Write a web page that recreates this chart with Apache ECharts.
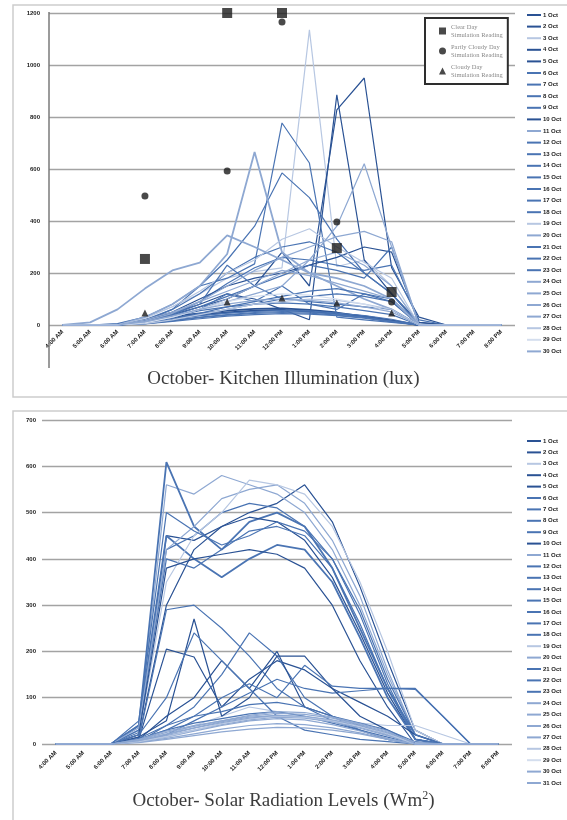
<!DOCTYPE html>
<html>
<head>
<meta charset="utf-8">
<script src="https://cdn.jsdelivr.net/npm/echarts@6/dist/echarts.min.js"></script>
<style>
  html, body { margin: 0; padding: 0; background: #fff; }
  #chart { width: 567px; height: 820px; }
</style>
</head>
<body>
<div id="chart"></div>
<script>
// Hourly readings through the day
const hours = ['4:00 AM', '5:00 AM', '6:00 AM', '7:00 AM', '8:00 AM', '9:00 AM', '10:00 AM', '11:00 AM',
  '12:00 PM', '1:00 PM', '2:00 PM', '3:00 PM', '4:00 PM', '5:00 PM', '6:00 PM', '7:00 PM', '8:00 PM'];

// Kitchen illumination (lux), one row per measured day
const kitchenDays = ['1 Oct', '2 Oct', '3 Oct', '4 Oct', '5 Oct', '6 Oct', '7 Oct', '8 Oct', '9 Oct', '10 Oct',
  '11 Oct', '12 Oct', '13 Oct', '14 Oct', '15 Oct', '16 Oct', '17 Oct', '18 Oct', '19 Oct', '20 Oct',
  '21 Oct', '22 Oct', '23 Oct', '24 Oct', '25 Oct', '26 Oct', '27 Oct', '28 Oct', '29 Oct', '30 Oct'];
const kitchenLux = [
  [0, 0, 0, 12, 28, 38, 48, 55, 58, 52, 44, 34, 18, 0, 0, 0, 0],
  [0, 0, 0, 18, 34, 45, 55, 62, 64, 58, 48, 32, 16, 0, 0, 0, 0],
  [0, 0, 4, 30, 70, 120, 180, 205, 220, 1135, 225, 250, 150, 5, 0, 0, 0],
  [0, 0, 0, 20, 45, 80, 120, 100, 60, 20, 885, 250, 120, 10, 0, 0, 0],
  [0, 0, 0, 15, 40, 70, 100, 150, 280, 150, 827, 950, 220, 30, 0, 0, 0],
  [0, 0, 0, 20, 60, 150, 180, 235, 777, 623, 30, 20, 10, 0, 0, 0, 0],
  [0, 0, 5, 30, 80, 150, 250, 380, 585, 490, 330, 200, 120, 0, 0, 0, 0],
  [0, 0, 0, 15, 60, 120, 200, 260, 300, 320, 280, 200, 120, 0, 0, 0, 0],
  [0, 0, 0, 10, 40, 90, 160, 220, 260, 250, 230, 210, 230, 20, 0, 0, 0],
  [0, 0, 0, 20, 50, 100, 150, 180, 200, 230, 260, 300, 280, 10, 0, 0, 0],
  [0, 0, 0, 30, 80, 150, 273, 665, 280, 200, 150, 100, 60, 0, 0, 0, 0],
  [0, 0, 0, 10, 35, 70, 110, 150, 190, 230, 210, 180, 300, 0, 0, 0, 0],
  [0, 0, 0, 5, 20, 40, 60, 80, 100, 110, 120, 110, 90, 0, 0, 0, 0],
  [0, 0, 0, 8, 25, 45, 70, 90, 110, 130, 140, 120, 100, 0, 0, 0, 0],
  [0, 0, 0, 6, 18, 30, 40, 48, 52, 50, 42, 30, 15, 0, 0, 0, 0],
  [0, 0, 0, 10, 30, 60, 120, 90, 150, 80, 60, 120, 90, 0, 0, 0, 0],
  [0, 0, 0, 4, 14, 24, 34, 40, 44, 42, 36, 26, 12, 0, 0, 0, 0],
  [0, 0, 0, 8, 22, 36, 46, 52, 56, 54, 46, 36, 22, 0, 0, 0, 0],
  [0, 0, 0, 25, 70, 130, 200, 250, 330, 370, 300, 240, 180, 0, 0, 0, 0],
  [0, 10, 60, 140, 210, 240, 345, 300, 250, 200, 180, 150, 100, 0, 0, 0, 0],
  [0, 0, 0, 12, 40, 80, 230, 150, 100, 90, 80, 70, 60, 0, 0, 0, 0],
  [0, 0, 0, 5, 16, 28, 38, 45, 48, 46, 38, 28, 14, 0, 0, 0, 0],
  [0, 0, 0, 10, 32, 55, 70, 80, 85, 80, 70, 55, 40, 0, 0, 0, 0],
  [0, 0, 0, 10, 30, 60, 90, 120, 150, 250, 380, 620, 300, 0, 0, 0, 0],
  [0, 0, 0, 15, 45, 90, 150, 210, 260, 300, 340, 360, 320, 0, 0, 0, 0],
  [0, 0, 0, 10, 30, 60, 100, 150, 200, 250, 280, 230, 150, 0, 0, 0, 0],
  [0, 0, 0, 20, 50, 90, 130, 170, 210, 190, 160, 130, 100, 0, 0, 0, 0],
  [0, 0, 0, 5, 20, 40, 60, 80, 90, 100, 95, 80, 60, 0, 0, 0, 0],
  [0, 0, 0, 8, 30, 60, 90, 110, 120, 115, 100, 80, 50, 0, 0, 0, 0],
  [0, 0, 0, 12, 35, 60, 80, 95, 100, 95, 85, 70, 50, 0, 0, 0, 0]
];

// Simulation readings for the kitchen
const simHours = ['7:00 AM', '10:00 AM', '12:00 PM', '2:00 PM', '4:00 PM'];
const clearDaySim = [254, 1200, 1200, 296, 127];
const partlyCloudySim = [496, 592, 1165, 396, 88];
const cloudySim = [46, 88, 104, 85, 46];

// Solar radiation (W/m2), one row per measured day
const solarDays = ['1 Oct', '2 Oct', '3 Oct', '4 Oct', '5 Oct', '6 Oct', '7 Oct', '8 Oct', '9 Oct', '10 Oct',
  '11 Oct', '12 Oct', '13 Oct', '14 Oct', '15 Oct', '16 Oct', '17 Oct', '18 Oct', '19 Oct', '20 Oct',
  '21 Oct', '22 Oct', '23 Oct', '24 Oct', '25 Oct', '26 Oct', '27 Oct', '28 Oct', '29 Oct', '30 Oct', '31 Oct'];
const solarWm2 = [
  [0, 0, 0, 20, 450, 440, 470, 500, 520, 560, 480, 340, 180, 30, 0, 0, 0],
  [0, 0, 0, 30, 560, 540, 580, 560, 540, 500, 420, 300, 150, 20, 0, 0, 0],
  [0, 0, 0, 40, 609, 470, 420, 480, 500, 470, 380, 250, 120, 20, 0, 0, 0],
  [0, 0, 0, 25, 420, 450, 500, 520, 510, 470, 400, 280, 130, 10, 0, 0, 0],
  [0, 0, 0, 15, 300, 420, 470, 490, 480, 440, 360, 240, 110, 10, 0, 0, 0],
  [0, 0, 0, 30, 400, 380, 420, 460, 470, 450, 380, 260, 120, 10, 0, 0, 0],
  [0, 0, 0, 40, 450, 400, 360, 400, 430, 420, 350, 230, 100, 10, 0, 0, 0],
  [0, 0, 0, 35, 420, 470, 530, 550, 560, 520, 440, 320, 160, 20, 0, 0, 0],
  [0, 0, 0, 20, 350, 450, 500, 570, 560, 540, 470, 350, 200, 30, 0, 0, 0],
  [0, 0, 0, 10, 205, 188, 80, 140, 180, 160, 120, 90, 60, 20, 0, 0, 0],
  [0, 0, 0, 20, 380, 400, 410, 420, 410, 380, 300, 180, 80, 0, 0, 0, 0],
  [0, 0, 0, 50, 500, 460, 430, 450, 480, 460, 400, 290, 140, 20, 0, 0, 0],
  [0, 0, 0, 10, 290, 300, 250, 190, 120, 80, 50, 30, 10, 0, 0, 0, 0],
  [0, 0, 0, 5, 40, 80, 150, 240, 190, 100, 60, 30, 10, 0, 0, 0, 0],
  [0, 0, 0, 10, 60, 100, 180, 120, 200, 80, 60, 40, 20, 0, 0, 0, 0],
  [0, 0, 0, 5, 20, 40, 60, 80, 70, 60, 50, 45, 40, 40, 20, 0, 0],
  [0, 0, 0, 5, 20, 50, 80, 110, 140, 120, 110, 115, 120, 120, 60, 0, 0],
  [0, 0, 0, 15, 50, 270, 60, 100, 190, 190, 120, 60, 30, 0, 0, 0, 0],
  [0, 0, 0, 10, 30, 60, 100, 130, 100, 170, 125, 120, 120, 118, 60, 0, 0],
  [0, 0, 0, 20, 100, 240, 180, 120, 60, 30, 20, 10, 5, 0, 0, 0, 0],
  [0, 0, 0, 10, 30, 45, 55, 65, 70, 60, 45, 30, 15, 0, 0, 0, 0],
  [0, 0, 0, 5, 15, 28, 40, 50, 55, 52, 42, 28, 12, 0, 0, 0, 0],
  [0, 0, 0, 8, 22, 35, 48, 58, 62, 58, 48, 34, 18, 0, 0, 0, 0],
  [0, 0, 0, 4, 12, 22, 32, 40, 44, 42, 35, 24, 10, 0, 0, 0, 0],
  [0, 0, 0, 12, 40, 60, 70, 85, 90, 80, 60, 45, 30, 5, 0, 0, 0],
  [0, 0, 0, 6, 18, 30, 42, 52, 58, 56, 48, 36, 20, 0, 0, 0, 0],
  [0, 0, 0, 10, 28, 40, 50, 60, 66, 64, 56, 42, 26, 0, 0, 0, 0],
  [0, 0, 0, 3, 10, 18, 26, 32, 36, 35, 30, 22, 10, 0, 0, 0, 0],
  [0, 0, 0, 5, 16, 30, 44, 54, 60, 58, 50, 38, 22, 0, 0, 0, 0],
  [0, 0, 0, 7, 20, 34, 46, 56, 62, 60, 52, 40, 24, 4, 0, 0, 0],
  [0, 0, 0, 9, 25, 38, 50, 62, 70, 68, 58, 44, 28, 0, 0, 0, 0]
];

// Line shades: D dark, M mid, L light, V very light, W palest
const shade = { D: '#2a5294', M: '#4a74b3', L: '#8ea8d2', V: '#b7c7e2', W: '#d4deee' };
const kitchenShades = 'DDVDDMMMMDLMMMMMMMVLMMMLLLLVWL'.split('');
const kitchenWide = [0, 1, 10, 19];
const solarShades = 'DLMMDMMLVDDMMMDVMDMMMLLLMLLLVLL'.split('');
const solarWide = [2, 6];

const serif = "'Liberation Serif', 'DejaVu Serif', serif";
const sans = "'Liberation Sans', Arial, sans-serif";

function lineSeries(names, rows, shades, wide, axis) {
  return rows.map((row, i) => ({
    name: names[i],
    type: 'line',
    xAxisIndex: axis,
    yAxisIndex: axis,
    data: row,
    symbol: 'none',
    showSymbol: false,
    silent: true,
    lineStyle: { width: wide.includes(i) ? 1.8 : 1.2, color: shade[shades[i]] },
    itemStyle: { color: shade[shades[i]] },
    emphasis: { disabled: true }
  }));
}

function simSeries(name, values, symbol, size) {
  return {
    name: name,
    type: 'scatter',
    xAxisIndex: 0,
    yAxisIndex: 0,
    data: simHours.map((h, i) => [h, values[i]]),
    symbol: symbol,
    symbolSize: size,
    clip: false,
    z: 5,
    itemStyle: { color: '#1b1b1b' },
    emphasis: { disabled: true }
  };
}

const clearName = 'Clear Day\nSimulation Reading';
const partlyName = 'Partly Cloudy Day\nSimulation Reading';
const cloudyName = 'Cloudy Day\nSimulation Reading';

const axisLabelStyle = { fontSize: 6, color: '#222', fontWeight: 'bold', fontFamily: sans };

const lineLegend = (names, top, gap) => ({
  data: names,
  orient: 'vertical',
  left: 527,
  top: top,
  icon: 'rect',
  itemWidth: 14,
  itemHeight: 2,
  itemGap: gap,
  padding: 0,
  selectedMode: false,
  textStyle: { fontSize: 6, lineHeight: 8, color: '#222', fontWeight: 'bold', fontFamily: sans, padding: [0, 0, 0, -3] }
});

const chart = echarts.init(document.getElementById('chart'));
chart.setOption({
  animation: false,
  backgroundColor: '#fff',
  title: [
    {
      text: 'October- Kitchen Illumination (lux)',
      left: 'center', top: 370, padding: 0,
      textStyle: { fontFamily: serif, fontSize: 19, fontWeight: 'normal', color: '#3c3c3c' }
    },
    {
      text: 'October- Solar Radiation Levels (Wm{s|2})',
      left: 'center', top: 790, padding: 0,
      textStyle: {
        fontFamily: serif, fontSize: 19, fontWeight: 'normal', color: '#3c3c3c', lineHeight: 23,
        rich: { s: { fontFamily: serif, fontSize: 12, color: '#3c3c3c', verticalAlign: 'top', lineHeight: 23 } }
      }
    }
  ],
  graphic: [
    { type: 'rect', shape: { x: 13, y: 5, width: 560, height: 392 }, style: { fill: 'none', stroke: '#cdcdcd', lineWidth: 1.5 }, z: -1, silent: true },
    { type: 'rect', shape: { x: 13, y: 411, width: 560, height: 412 }, style: { fill: 'none', stroke: '#cdcdcd', lineWidth: 1.5 }, z: -1, silent: true },
    { type: 'line', shape: { x1: 49, y1: 12, x2: 49, y2: 368 }, style: { stroke: '#7a7a7a', lineWidth: 1.5 }, z: 1, silent: true }
  ],
  grid: [
    { left: 49, top: 13, width: 466, height: 312 },
    { left: 42, top: 420, width: 470, height: 324 }
  ],
  xAxis: [
    {
      gridIndex: 0, type: 'category', data: hours, boundaryGap: true,
      axisLine: { show: false }, axisTick: { show: false },
      axisLabel: Object.assign({ rotate: 45, interval: 0, margin: 6 }, axisLabelStyle)
    },
    {
      gridIndex: 1, type: 'category', data: hours, boundaryGap: true,
      axisLine: { show: false }, axisTick: { show: false },
      axisLabel: Object.assign({ rotate: 45, interval: 0, margin: 8 }, axisLabelStyle)
    }
  ],
  yAxis: [
    {
      gridIndex: 0, type: 'value', min: 0, max: 1200, interval: 200,
      axisLine: { show: false }, axisTick: { show: false },
      splitLine: { lineStyle: { color: '#a3a3a3', width: 1.3 } },
      axisLabel: Object.assign({ margin: 9, formatter: (v) => String(v) }, axisLabelStyle)
    },
    {
      gridIndex: 1, type: 'value', min: 0, max: 700, interval: 100,
      axisLine: { show: false }, axisTick: { show: false },
      splitLine: { lineStyle: { color: '#a3a3a3', width: 1.3 } },
      axisLabel: Object.assign({ margin: 6 }, axisLabelStyle)
    }
  ],
  legend: [
    {
      data: [{ name: clearName, icon: 'rect' }, { name: partlyName, icon: 'circle' }, { name: cloudyName, icon: 'triangle' }],
      orient: 'vertical',
      left: 425, top: 18,
      itemWidth: 7, itemHeight: 7, itemGap: 4,
      padding: [5, 5, 5, 14],
      backgroundColor: '#fff',
      borderColor: '#2e2e2e', borderWidth: 2,
      selectedMode: false,
      textStyle: { fontFamily: serif, fontSize: 6.5, lineHeight: 8, color: '#8a8a8a' }
    },
    lineLegend(kitchenDays, 11, 3.6),
    lineLegend(solarDays, 437, 3.4)
  ],
  series: [
    ...lineSeries(kitchenDays, kitchenLux, kitchenShades, kitchenWide, 0),
    ...lineSeries(solarDays, solarWm2, solarShades, solarWide, 1),
    simSeries(clearName, clearDaySim, 'rect', 10),
    simSeries(partlyName, partlyCloudySim, 'circle', 7),
    simSeries(cloudyName, cloudySim, 'triangle', 7)
  ]
});
</script>
</body>
</html>
